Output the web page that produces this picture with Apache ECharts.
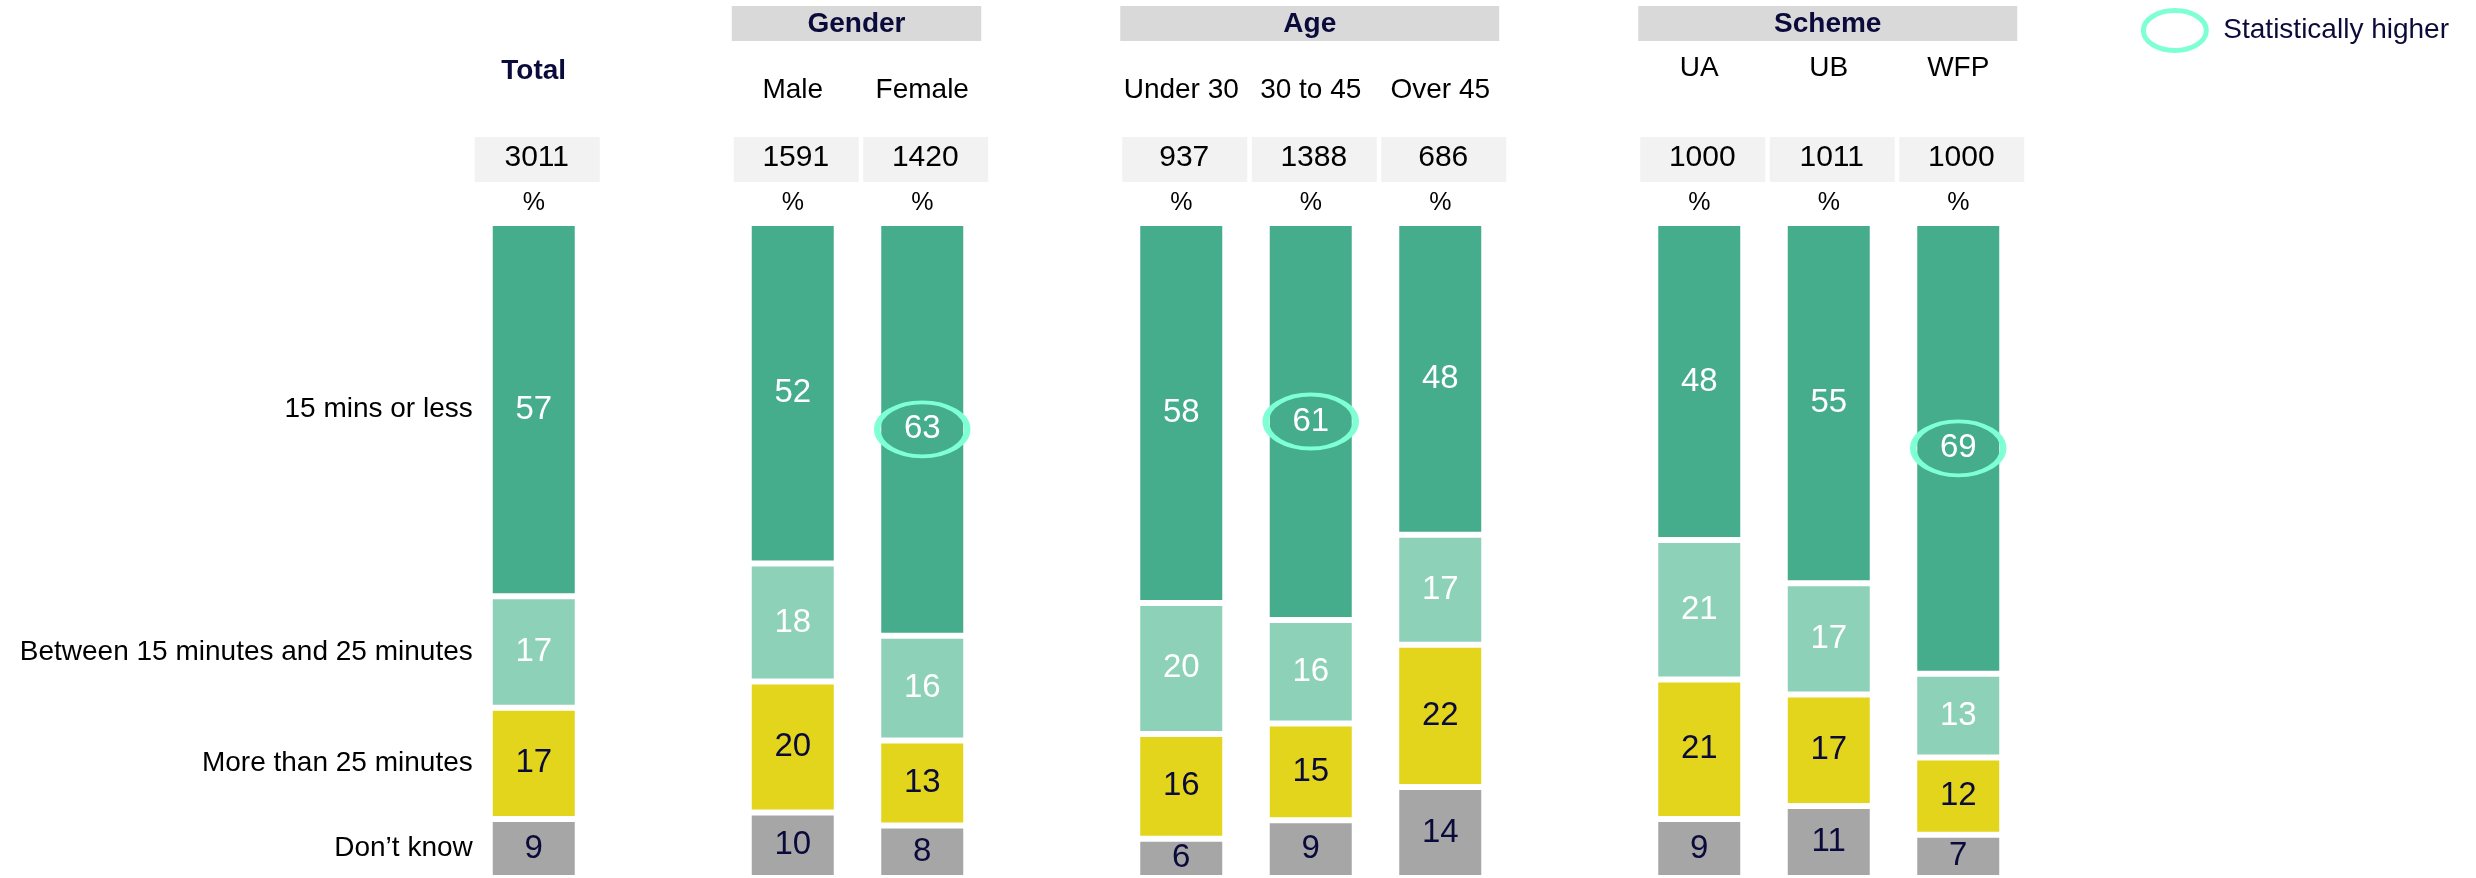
<!DOCTYPE html>
<html>
<head>
<meta charset="utf-8">
<script src="https://cdn.jsdelivr.net/npm/echarts@6/dist/echarts.min.js"></script>
<style>
  html, body { margin: 0; padding: 0; background: #fff; }
  #main { width: 2476px; height: 878px; }
</style>
</head>
<body>
<div id="main"></div>
<script>
// column slots, null = spacer between the groups
const columns = ['Total', null, 'Male', 'Female', null, 'Under 30', '30 to 45', 'Over 45', null, 'UA', 'UB', 'WFP']
const bases = [3011, null, 1591, 1420, null, 937, 1388, 686, null, 1000, 1011, 1000]
const groupNames = ['Gender', 'Age', 'Scheme']
const groupSpans = [[2, 3], [5, 7], [9, 11]]
const rowNames = ['15 mins or less', 'Between 15 minutes and 25 minutes', 'More than 25 minutes', 'Don\u2019t know']

// percentages (labels are the rounded values)
const under15 = [57, null, 52, 63, null, 58, 60.6, 47.6, null, 48.4, 55, 68.8]
const between15and25 = [17, null, 18, 16, null, 20, 15.8, 16.8, null, 21.3, 17, 12.8]
const over25 = [17, null, 20, 13, null, 16, 14.8, 21.7, null, 21.3, 17, 11.8]
const dontKnow = [9, null, 10, 8, null, 6, 8.8, 13.9, null, 9, 11, 6.6]
// statistically higher flags
const higher = [false, false, false, true, false, false, true, false, false, false, false, true]

const NAVY = '#0b0b3b'
const FONT = '"Liberation Sans", Arial, sans-serif'
const AQUA = '#7fffd4'
const ELLIPSE = 'path://M50,0 C77.6,0 100,22.4 100,50 C100,77.6 77.6,100 50,100 C22.4,100 0,77.6 0,50 C0,22.4 22.4,0 50,0 Z'

const chart = echarts.init(document.getElementById('main'))

const stacks = [
  { name: rowNames[3], data: dontKnow, color: '#a6a6a6', text: NAVY },
  { name: rowNames[2], data: over25, color: '#e3d51b', text: NAVY },
  { name: rowNames[1], data: between15and25, color: '#8cd1b8', text: '#fff' },
  { name: rowNames[0], data: under15, color: '#45ad8b', text: '#fff' }
]

const barSeries = stacks.map(s => ({
  type: 'bar',
  name: s.name,
  stack: 'main',
  barWidth: 88,
  barGap: '-100%',
  data: s.data,
  itemStyle: { color: s.color, borderColor: '#fff', borderWidth: 3 },
  label: {
    show: true,
    position: 'inside',
    color: s.text,
    fontSize: 33,
    fontFamily: FONT,
    formatter: p => Math.round(p.value)
  },
  silent: true
}))

// invisible copy of the Total column that carries the row names on its left
const rowLabelSeries = stacks.map(s => ({
  type: 'bar',
  name: s.name + ' label',
  stack: 'rowlabels',
  barWidth: 88,
  barGap: '-100%',
  data: s.data.map((v, i) => (i === 0 ? v : null)),
  itemStyle: { color: 'rgba(0,0,0,0)' },
  label: {
    show: true,
    position: 'left',
    distance: 17,
    color: '#000',
    fontSize: 28,
    fontFamily: FONT,
    formatter: () => s.name
  },
  silent: true
}))

const higherData = []
higher.forEach((h, i) => {
  if (h) {
    higherData.push([i, dontKnow[i] + over25[i] + between15and25[i] + under15[i] / 2])
  }
})

const option = {
  animation: false,
  backgroundColor: '#fff',
  grid: { left: 469, right: 453, top: 223, bottom: 0 },
  legend: {
    data: [{ name: 'Statistically higher', icon: ELLIPSE }],
    right: 22,
    top: 3,
    itemWidth: 63,
    itemHeight: 40,
    itemGap: 16,
    symbolKeepAspect: false,
    itemStyle: { color: 'rgba(0,0,0,0)', borderColor: AQUA, borderWidth: 5 },
    textStyle: { fontSize: 28, color: NAVY, fontFamily: FONT, padding: [0, 0, 0, 12] },
    selectedMode: false
  },
  xAxis: {
    type: 'category',
    data: columns.map((c, i) => c || 'gap' + i),
    show: false
  },
  yAxis: { type: 'value', min: 0, max: 100, show: false },
  series: [
    ...barSeries,
    ...rowLabelSeries,
    {
      type: 'scatter',
      name: 'Statistically higher',
      data: higherData,
      symbol: ELLIPSE,
      symbolSize: [90, 54],
      symbolKeepAspect: false,
      itemStyle: { color: 'rgba(0,0,0,0)', borderColor: AQUA, borderWidth: 5, opacity: 1 },
      z: 5,
      silent: true
    }
  ]
}
chart.setOption(option)

// header blocks placed over the column centres
const px = i => chart.convertToPixel({ xAxisIndex: 0 }, i)
const graphics = []
groupNames.forEach((g, k) => {
  const x0 = px(groupSpans[k][0]) - 61
  const x1 = px(groupSpans[k][1]) + 59
  graphics.push({
    type: 'rect',
    shape: { x: x0, y: 6, width: x1 - x0, height: 35 },
    style: { fill: '#d9d9d9' }
  })
  graphics.push({
    type: 'text',
    x: (x0 + x1) / 2,
    y: 24,
    style: { text: g, fill: NAVY, fontSize: 28, fontWeight: 'bold', fontFamily: FONT, align: 'center', verticalAlign: 'middle' }
  })
})
columns.forEach((c, i) => {
  if (!c) return
  const cx = px(i)
  const isTotal = i === 0
  const nameY = isTotal ? 71 : (i >= 9 ? 68 : 90)
  graphics.push({
    type: 'text',
    x: cx,
    y: nameY,
    style: {
      text: c,
      fill: isTotal ? NAVY : '#000',
      fontSize: 28,
      fontWeight: isTotal ? 'bold' : 'normal',
      fontFamily: FONT,
      align: 'center',
      verticalAlign: 'middle'
    }
  })
  graphics.push({
    type: 'rect',
    shape: { x: cx - 59, y: 137, width: 125, height: 45 },
    style: { fill: '#f2f2f2' }
  })
  graphics.push({
    type: 'text',
    x: cx + 3,
    y: 158,
    style: { text: String(bases[i]), fill: '#000', fontSize: 30, fontFamily: FONT, align: 'center', verticalAlign: 'middle' }
  })
  graphics.push({
    type: 'text',
    x: cx,
    y: 203,
    style: { text: '%', fill: '#000', fontSize: 25, fontFamily: FONT, align: 'center', verticalAlign: 'middle' }
  })
})
chart.setOption({ graphic: graphics })
</script>
</body>
</html>
